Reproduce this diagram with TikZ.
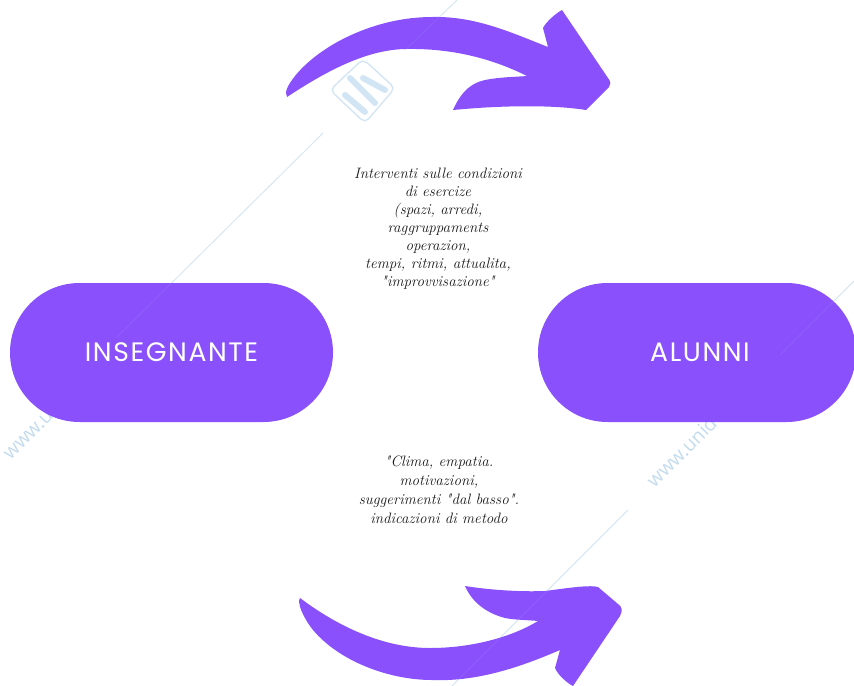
\documentclass[tikz,border=0pt]{standalone}
\usepackage{fontspec}
\setsansfont{Poppins}[LetterSpace=6]
\newfontfamily\noteface{Latin Modern Roman}[Ligatures=ResetAll]
\newfontfamily\wmface{Open Sans}
\definecolor{vio}{HTML}{8950FC}
\definecolor{wm}{HTML}{D2E5F5}
\definecolor{wmtext}{HTML}{C4DCEE}
\tikzset{
  pill/.style={draw=none,fill=vio,rounded corners=69.5*0.75pt,minimum height=139*0.75pt,text=white,font=\sffamily\fontsize{20}{22}\selectfont,inner sep=0pt},
  note/.style={align=center,font=\noteface\itshape\fontsize{11.3}{#1}\selectfont,text=black!90,inner sep=0pt},
  bigarrow/.style={fill=vio,draw=none},
  wmline/.style={draw=wm,line width=0.6pt},
  wmover/.style={draw=wm,line width=0.6pt,opacity=0.1},
  wmark/.style={text=wmtext,font=\wmface\fontsize{14.5}{16}\selectfont,inner sep=0pt}
}
\begin{document}
\begin{tikzpicture}[x=0.75pt,y=-0.75pt]
\useasboundingbox (0,0) rectangle (854,686);
\fill[white] (0,0) rectangle (854,686);
% watermark lines
\draw[wmline] (457,0) -- (405,50);
\draw[wmline] (323,133) -- (117,337);
\draw[wmline] (628,510) -- (452,686);
\draw[wmline] (854,281) -- (780,355);
% watermark logo
\draw[wm,line width=1pt,rounded corners=4pt] (363,59) -- (395,88) -- (365,123) -- (330,90) -- cycle;
\draw[wm,line width=4.5pt,line cap=round] (350,78) -- (375,103);
\draw[wm,line width=4.5pt,line cap=round] (363,78) -- (385,90);
\draw[wm,line width=4.5pt,line cap=round] (345,95) -- (365,112);
% watermark text
\node[wmark,rotate=45] (wmleft) at (54,407) {www.unidocs.it};
\node[wmark,rotate=45] (wmright) at (698,435) {www.unidocs.it};
% arrows
\fill[bigarrow] (287,97) .. controls (284,92) and (288,85) .. (295,76)
  .. controls (320,45) and (375,17) .. (432,17)
  .. controls (475,16) and (510,32) .. (548,47)
  -- (543,28) .. controls (546,22) and (555,14) .. (562,10)
  -- (608,78) .. controls (611,82) and (611,85) .. (609,87)
  -- (586,110) .. controls (555,105) and (505,105) .. (453,110)
  .. controls (462,90) and (472,83) .. (485,80)
  .. controls (500,77) and (515,77) .. (527,76)
  .. controls (495,60) and (455,48) .. (405,49)
  .. controls (365,50) and (325,72) .. (287,97) -- cycle;
\fill[bigarrow] (300,598) .. controls (297,602) and (302,616) .. (313,630)
  .. controls (340,662) and (390,680) .. (432,680)
  .. controls (480,682) and (525,665) .. (560,650)
  -- (555,668) .. controls (558,675) and (567,683) .. (573,686)
  -- (620,616) .. controls (623,610) and (622,607) .. (618,604)
  -- (598,587) .. controls (590,585) and (575,587) .. (545,591)
  .. controls (520,592) and (490,590) .. (465,586)
  .. controls (470,598) and (482,612) .. (505,618)
  .. controls (515,620) and (528,620) .. (538,621)
  .. controls (510,638) and (470,648) .. (430,648)
  .. controls (385,648) and (340,628) .. (300,598) -- cycle;
% pills
\node[pill,minimum width=323*0.75pt] (ins) at (171.5,352.5) {INSEGNANTE};
\node[pill,minimum width=318*0.75pt] (alu) at (697,352.5) {\hspace{4.5pt}ALUNNI};
% lines faintly showing through the purple shapes
\draw[wmover] (457,0) -- (405,50);
\draw[wmover] (323,133) -- (117,337);
\draw[wmover] (628,510) -- (452,686);
\draw[wmover] (854,281) -- (780,355);
% texts
\node[note=13.5] (top) at (438,229) {Interventi sulle condizioni\\di esercize\\(spazi, arredi,\\raggruppaments\\operazion,\\tempi, ritmi, attualita,\\"improvvisazione"};
\node[note=14.2] (bot) at (439,489.5) {"Clima, empatia.\\motivazioni,\\suggerimenti "dal basso".\\indicazioni di metodo};
\end{tikzpicture}
\end{document}
